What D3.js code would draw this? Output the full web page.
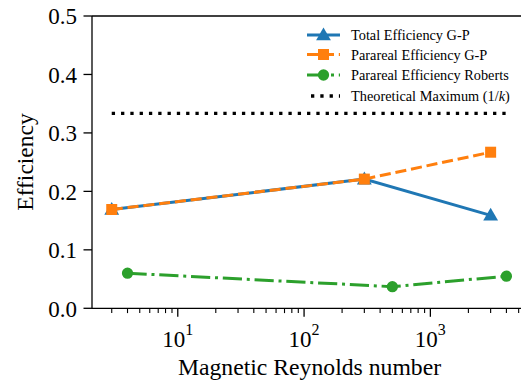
<!DOCTYPE html>
<html><head><meta charset="utf-8">
<script src="https://cdn.jsdelivr.net/npm/d3@7"></script>
<style>body{margin:0;background:#fff}svg{display:block}svg text{font-family:"Liberation Serif","DejaVu Serif",serif}</style>
</head><body>
<script>
const seriesNames = ["Total Efficiency G-P","Parareal Efficiency G-P","Parareal Efficiency Roberts"];
const xGP = [3, 300, 3000];
const totalGP = [0.169, 0.221, 0.159];
const pararealGP = [0.169, 0.221, 0.267];
const xRoberts = [4, 500, 4000];
const pararealRoberts = [0.060, 0.037, 0.055];
const theoreticalMax = 1/3;
const theoreticalX = [3, 4000];
const yTicks = [0.0, 0.1, 0.2, 0.3, 0.4, 0.5];
const xTicks = [10, 100, 1000];
const xLabel = "Magnetic Reynolds number";
const yLabel = "Efficiency";

const W = 521, H = 387;
const L = 92, T = 16, B = 308.3;
const allX = xGP.concat(xRoberts);
const lmin = Math.log10(d3.min(allX)), lmax = Math.log10(d3.max(allX));
const m = (lmax - lmin) * 0.05;
const decade = 126.3;
const R = L + (lmax - lmin + 2*m) * decade;
const x = d3.scaleLog().domain([10**(lmin-m), 10**(lmax+m)]).range([L, R]);
const y = d3.scaleLinear().domain([0, 0.5]).range([B, T]);

const svg = d3.select("body").append("svg").attr("width", W).attr("height", H)
  .attr("font-family", "'Liberation Serif', 'DejaVu Serif', serif");

// spines
svg.append("line").attr("x1", L).attr("x2", W+5).attr("y1", T).attr("y2", T).attr("stroke", "#000").attr("stroke-width", 1.3);
svg.append("line").attr("x1", L).attr("x2", L).attr("y1", T).attr("y2", B).attr("stroke", "#000").attr("stroke-width", 1.3);
svg.append("line").attr("x1", L).attr("x2", W+5).attr("y1", B).attr("y2", B).attr("stroke", "#000").attr("stroke-width", 1.3);

// y ticks
yTicks.forEach(v => {
  svg.append("line").attr("x1", L-8.5).attr("x2", L).attr("y1", y(v)).attr("y2", y(v)).attr("stroke", "#000").attr("stroke-width", 1.3);
  svg.append("text").attr("x", L-15).attr("y", y(v)).attr("dy", "0.36em").attr("text-anchor", "end")
    .attr("font-size", 23).text(v.toFixed(1));
});
// x minor ticks
const [d0, d1] = x.domain();
for (let e = Math.floor(Math.log10(d0)); e <= Math.ceil(Math.log10(d1)); e++) {
  for (let k = 2; k <= 9; k++) {
    const v = k * 10**e;
    if (v < d0 || v > d1) continue;
    svg.append("line").attr("x1", x(v)).attr("x2", x(v)).attr("y1", B).attr("y2", B+4.8).attr("stroke", "#000").attr("stroke-width", 1.1);
  }
}
// x major ticks
xTicks.forEach(v => {
  svg.append("line").attr("x1", x(v)).attr("x2", x(v)).attr("y1", B).attr("y2", B+8.5).attr("stroke", "#000").attr("stroke-width", 1.3);
  const t = svg.append("text").attr("x", x(v)).attr("y", 346.5).attr("text-anchor", "middle").attr("font-size", 23);
  t.append("tspan").text("10");
  t.append("tspan").attr("font-size", 16).attr("dy", -12).text(String(Math.round(Math.log10(v))));
});

svg.append("text").attr("x", (L + 521)/2 + 3).attr("y", 375).attr("text-anchor", "middle").attr("font-size", 23.7).text(xLabel);
svg.append("text").attr("transform", `translate(${33},${162}) rotate(-90)`).attr("text-anchor", "middle").attr("font-size", 23.5).text(yLabel);

const colors = ["#1f77b4", "#ff7f0e", "#2ca02c"];
const line = d3.line().x(d => x(d[0])).y(d => y(d[1]));
const tri = d3.symbol().type(d3.symbolTriangle).size(95);
const circ = d3.symbol().type(d3.symbolCircle).size(100);

// theoretical max
svg.append("path").attr("d", line(theoreticalX.map(v => [v, theoreticalMax])))
  .attr("fill", "none").attr("stroke", "#000").attr("stroke-width", 3.3).attr("stroke-dasharray", "3.3,6");

// total G-P
const d1s = xGP.map((v,i) => [v, totalGP[i]]);
svg.append("path").attr("d", line(d1s)).attr("fill", "none").attr("stroke", colors[0]).attr("stroke-width", 3);
d1s.forEach(d => svg.append("path").attr("d", tri).attr("transform", `translate(${x(d[0])},${y(d[1])+1})`).attr("fill", colors[0]));

// parareal G-P
const d2s = xGP.map((v,i) => [v, pararealGP[i]]);
svg.append("path").attr("d", line(d2s)).attr("fill", "none").attr("stroke", colors[1]).attr("stroke-width", 3).attr("stroke-dasharray", "11.1,4.8");
d2s.forEach(d => svg.append("rect").attr("x", x(d[0])-5.5).attr("y", y(d[1])-5.5).attr("width", 11).attr("height", 11).attr("fill", colors[1]));

// roberts
const d3s = xRoberts.map((v,i) => [v, pararealRoberts[i]]);
svg.append("path").attr("d", line(d3s)).attr("fill", "none").attr("stroke", colors[2]).attr("stroke-width", 3).attr("stroke-dasharray", "19.2,4.8,3,4.8");
d3s.forEach(d => svg.append("path").attr("d", circ).attr("transform", `translate(${x(d[0])},${y(d[1])})`).attr("fill", colors[2]));

// legend
const lx0 = 307, lx1 = 340, tx = 351;
const rows = [35, 54.5, 75, 96];
const fs = 14.3;
const lg = svg.append("g");
lg.append("line").attr("x1", lx0).attr("x2", lx1).attr("y1", rows[0]).attr("y2", rows[0]).attr("stroke", colors[0]).attr("stroke-width", 3);
lg.append("path").attr("d", tri).attr("transform", `translate(${(lx0+lx1)/2},${rows[0]+1})`).attr("fill", colors[0]);
lg.append("line").attr("x1", lx0).attr("x2", lx1).attr("y1", rows[1]).attr("y2", rows[1]).attr("stroke", colors[1]).attr("stroke-width", 3).attr("stroke-dasharray", "11.1,4.8");
lg.append("rect").attr("x", (lx0+lx1)/2-5.5).attr("y", rows[1]-5.5).attr("width", 11).attr("height", 11).attr("fill", colors[1]);
lg.append("line").attr("x1", lx0).attr("x2", lx1).attr("y1", rows[2]).attr("y2", rows[2]).attr("stroke", colors[2]).attr("stroke-width", 3).attr("stroke-dasharray", "19.2,4.8,3,4.8");
lg.append("path").attr("d", circ).attr("transform", `translate(${(lx0+lx1)/2},${rows[2]})`).attr("fill", colors[2]);
lg.append("line").attr("x1", lx0+4).attr("x2", lx1).attr("y1", rows[3]).attr("y2", rows[3]).attr("stroke", "#000").attr("stroke-width", 3.3).attr("stroke-dasharray", "3.3,6");
seriesNames.forEach((n, i) => lg.append("text").attr("x", tx).attr("y", rows[i]).attr("dy", "0.35em").attr("font-size", fs).text(n));
const tt = lg.append("text").attr("x", tx).attr("y", rows[3]).attr("dy", "0.35em").attr("font-size", fs);
tt.append("tspan").text("Theoretical Maximum (1/");
tt.append("tspan").attr("font-style", "italic").text("k");
tt.append("tspan").text(")");
</script>
</body></html>
